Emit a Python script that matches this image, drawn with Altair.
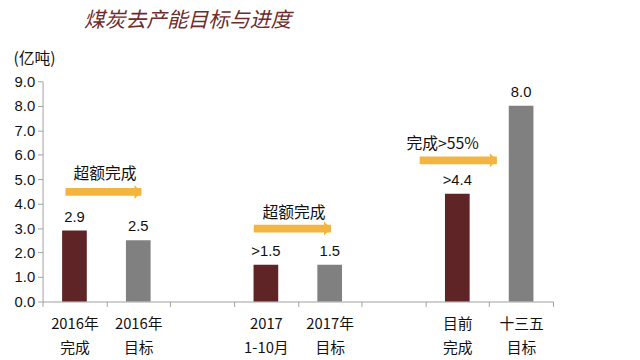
import altair as alt
import pandas as pd

# ---- data ----
categories = ["2016年|完成", "2016年|目标", "gap1", "2017|1-10月", "2017年|目标", "gap2", "目前|完成", "十三五|目标"]
bar_cats = ["2016年|完成", "2016年|目标", "2017|1-10月", "2017年|目标", "目前|完成", "十三五|目标"]
bar_vals = [2.9, 2.5, 1.5, 1.5, 4.4, 8.0]
bar_text = ["2.9", "2.5", ">1.5", "1.5", ">4.4", "8.0"]
bar_kind = ["完成", "目标", "完成", "目标", "完成", "目标"]
y_ticks = [0, 1, 2, 3, 4, 5, 6, 7, 8, 9]

# arrows (x in band units: band i spans [i, i+1])
arrow_x0 = [0.36, 3.31, 5.91]
arrow_x1 = [1.55, 4.52, 7.12]
arrow_y = [4.48, 2.98, 5.77]
arrow_text = ["超额完成", "超额完成", "完成>55%"]
arrow_tx = [0.98, 3.94, 6.27]
arrow_ty = [5.2, 3.63, 6.45]

DARK = "#5E2426"
GRAY = "#808080"
GOLD = "#F3B53F"
FONT = "Noto Sans CJK SC"

bars_df = pd.DataFrame({"cat": bar_cats, "val": bar_vals, "txt": bar_text, "kind": bar_kind})
arr_df = pd.DataFrame({"x0": arrow_x0, "x1": arrow_x1, "y": arrow_y,
                       "t": arrow_text, "tx": arrow_tx, "ty": arrow_ty})

yscale = alt.Scale(domain=[0, 9], nice=False)
xscale = alt.Scale(domain=categories, paddingInner=0, paddingOuter=0)

yaxis = alt.Axis(values=y_ticks, tickCount=10, format=".1f", grid=False,
                 labelOverlap=False,
                 labelFontSize=15, labelFont="Liberation Sans", labelColor="#111",
                 tickSize=5, domainColor="#A0A0A0", tickColor="#A0A0A0", labelPadding=3,
                 title="(亿吨)", titleAngle=0, titleAlign="left", titleBaseline="middle",
                 titleX=-30, titleY=-23, titleFontWeight="normal", titleFontSize=16,
                 titleFont=FONT, titleColor="#111")

base = alt.Chart(bars_df)
bars = base.mark_bar(size=25).encode(
    x=alt.X("cat:N", scale=xscale, sort=None, title=None,
            axis=alt.Axis(labelExpr="indexof(datum.label,'gap')==0 ? '' : split(datum.label,'|')",
                          labelAngle=0, labelFontSize=15, labelFont=FONT, labelColor="#111",
                          labelLineHeight=25, labelPadding=10, tickBand="extent", tickSize=5,
                          domainColor="#A0A0A0", tickColor="#A0A0A0")),
    y=alt.Y("val:Q", scale=yscale, axis=yaxis),
    color=alt.Color("kind:N", scale=alt.Scale(domain=["完成", "目标"], range=[DARK, GRAY]), legend=None),
)
labels = base.mark_text(baseline="bottom", dy=-6, fontSize=15, font="Liberation Sans", color="#111").encode(
    x=alt.X("cat:N", scale=xscale, sort=None),
    y=alt.Y("val:Q", scale=yscale, axis=yaxis),
    text="txt:N",
)

xq = alt.Scale(domain=[0, 8], nice=False, zero=False)
abase = alt.Chart(arr_df)
shaft = abase.mark_rule(color=GOLD, strokeWidth=8, strokeCap="butt").encode(
    x=alt.X("x0:Q", scale=xq, axis=None),
    x2="x1:Q",
    y=alt.Y("y:Q", scale=yscale, axis=yaxis),
)
head = abase.mark_point(shape="M -1 -1 L 0 0 L -1 1 Z", filled=True, opacity=1, color=GOLD, size=200).encode(
    x=alt.X("x1:Q", scale=xq, axis=None),
    y=alt.Y("y:Q", scale=yscale, axis=yaxis),
)
atext = abase.mark_text(fontSize=16, font=FONT, color="#111").encode(
    x=alt.X("tx:Q", scale=xq, axis=None),
    y=alt.Y("ty:Q", scale=yscale, axis=yaxis),
    text="t:N",
)

chart = alt.layer(alt.layer(bars, labels), alt.layer(shaft, head, atext)).resolve_scale(x="independent").properties(
    width=517, height=223,
    autosize=alt.AutoSizeParams(type="none"),
    padding={"left": 35, "top": 72, "right": 80, "bottom": 57},
    title=alt.TitleParams("煤炭去产能目标与进度", anchor="start", dx=42, offset=20,
                          fontSize=21, font=FONT, fontStyle="italic", fontWeight="normal",
                          color="#6E2C2C", frame="group"),
).configure_view(stroke=None)

chart.save("out.html", embed_options={"renderer": "svg", "actions": False})
